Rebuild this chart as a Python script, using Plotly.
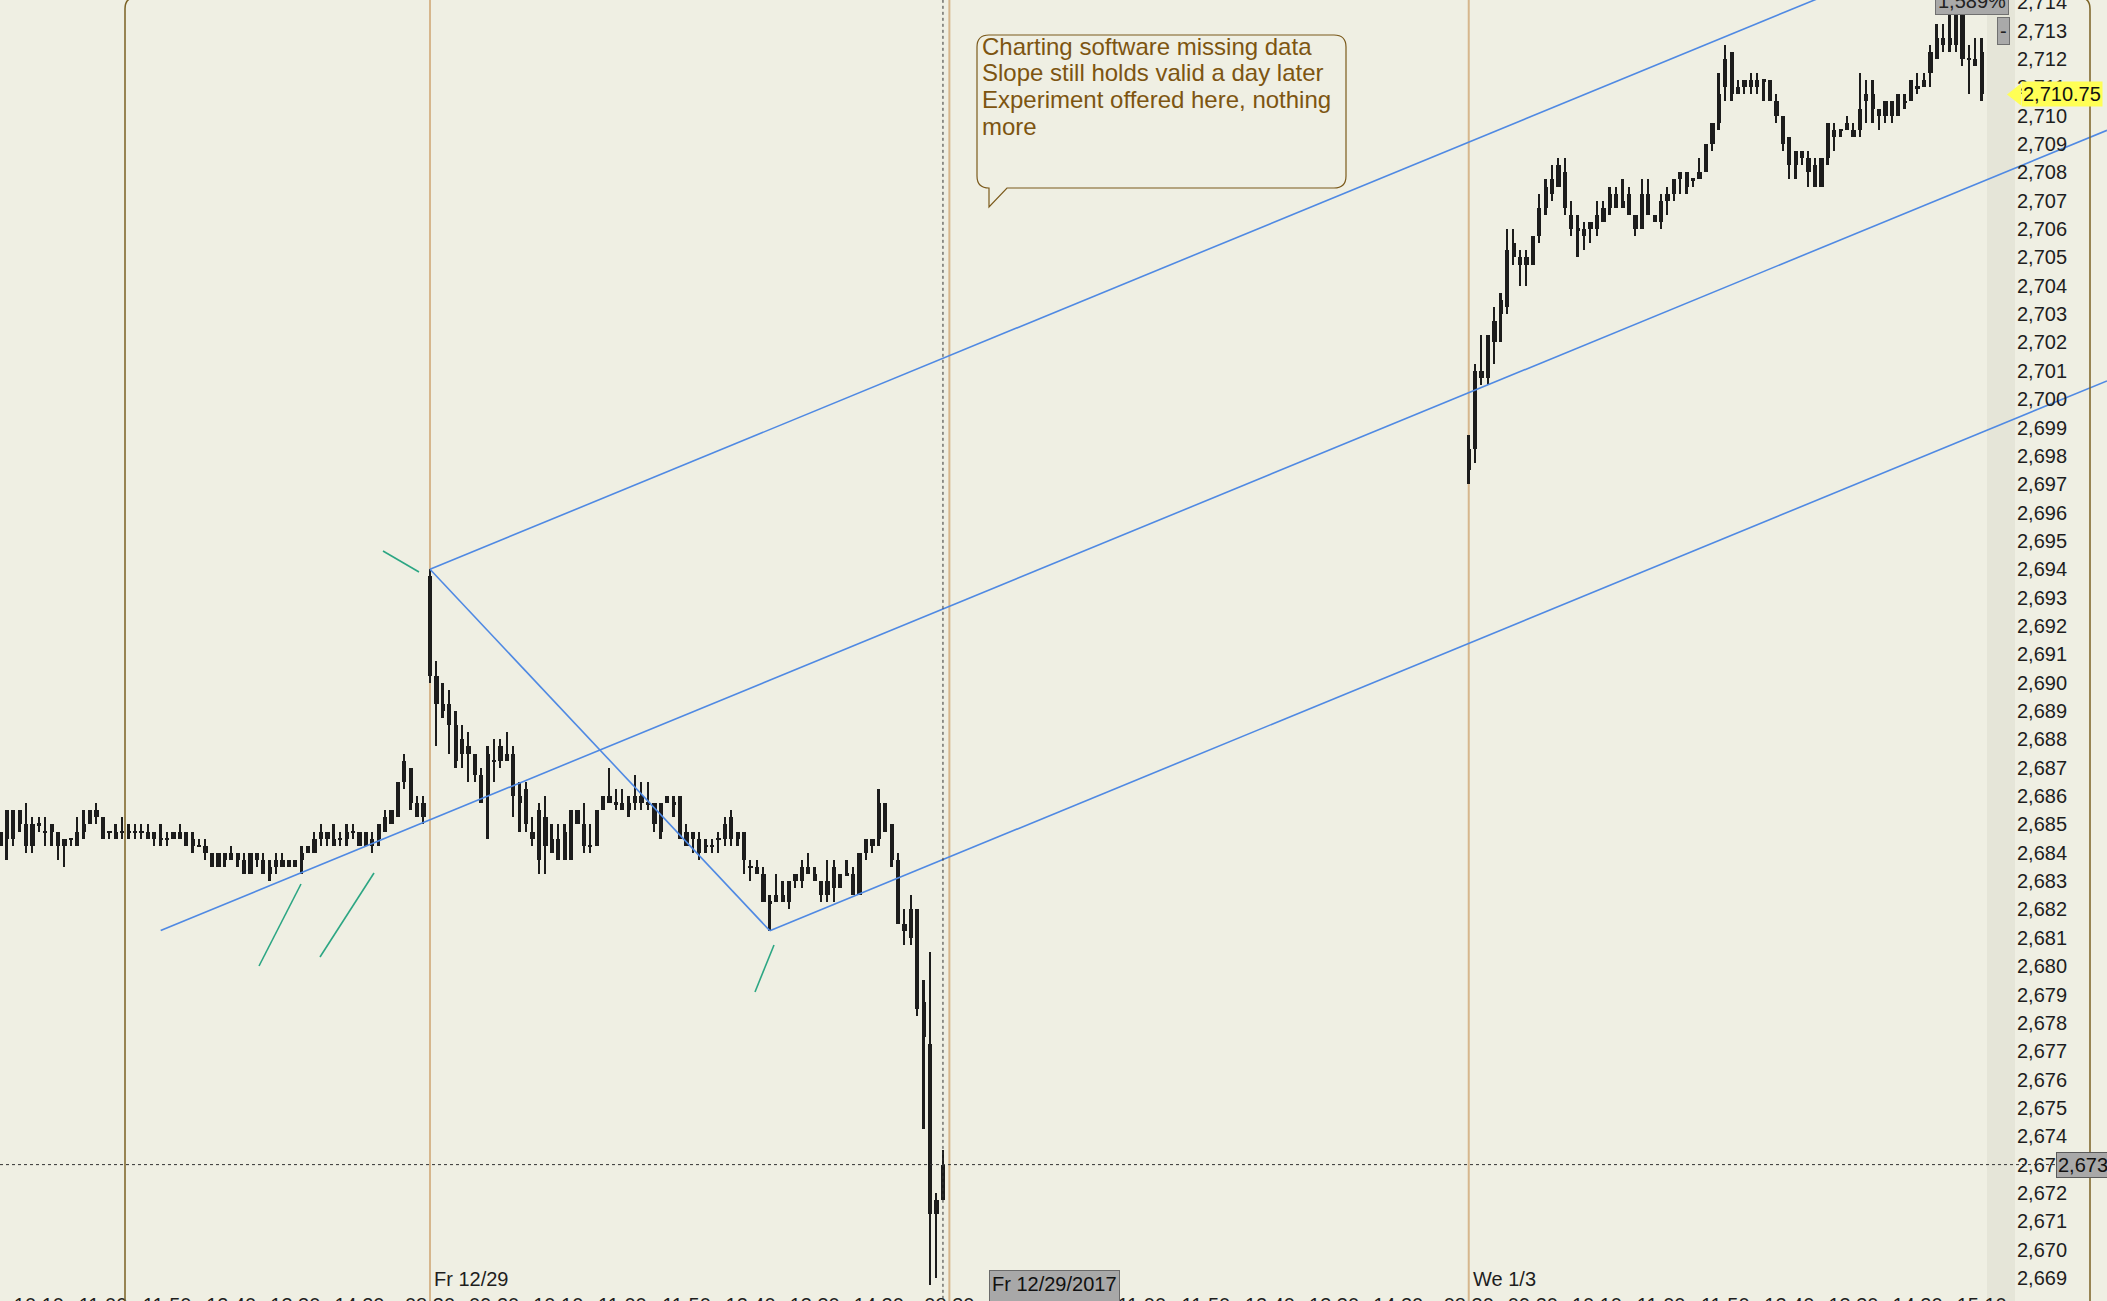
import plotly.graph_objects as go

# ================== data ==================
# ES 5-minute bars. bar slot 0 = Fr 12/29 08:30, 81 slots per session
# (Dec 28 from slot -67, Dec 29 from 0, Jan 2 missing, Jan 3 from 162)
dec28_start = -67
dec28_open = [2684.75, 2684.5, 2685.5, 2685.5, 2685.0, 2684.25, 2685.0, 2684.75, 2685.0, 2684.75,
              2684.5, 2684.5, 2684.25, 2684.75, 2685.0, 2685.5, 2685.25, 2684.75, 2684.75, 2684.75,
              2684.75, 2684.75, 2684.75, 2684.75, 2684.75, 2684.5, 2684.5, 2684.5, 2684.75, 2684.75,
              2684.5, 2684.25, 2684.25, 2684.0, 2683.5, 2684.0, 2683.75, 2684.0, 2683.75, 2683.25,
              2684.0, 2683.75, 2683.5, 2683.5, 2683.75, 2683.5, 2683.75, 2683.75, 2684.0, 2684.0,
              2684.5, 2684.75, 2684.5, 2684.5, 2684.5, 2684.75, 2684.75, 2684.25, 2684.5, 2684.5,
              2684.75, 2685.0, 2685.25, 2686.5, 2687.0, 2685.75, 2685.75]
dec28_high = [2684.75, 2685.5, 2685.5, 2685.5, 2685.75, 2685.25, 2685.25, 2685.25, 2685.0, 2684.75,
              2684.5, 2684.5, 2685.25, 2685.5, 2685.5, 2685.75, 2685.25, 2684.75, 2685.0, 2685.25,
              2685.0, 2685.0, 2685.0, 2685.0, 2684.75, 2685.0, 2684.75, 2684.75, 2685.0, 2684.75,
              2684.75, 2684.5, 2684.5, 2684.0, 2684.0, 2684.0, 2684.25, 2684.0, 2684.0, 2684.0,
              2684.0, 2684.0, 2683.75, 2684.0, 2684.0, 2683.75, 2683.75, 2684.25, 2684.25, 2684.75,
              2685.0, 2684.75, 2685.0, 2684.75, 2685.0, 2685.0, 2684.75, 2684.75, 2684.75, 2685.0,
              2685.5, 2685.5, 2686.5, 2687.5, 2687.0, 2686.0, 2686.0]
dec28_low = [2684.25, 2683.75, 2684.25, 2684.75, 2684.0, 2684.0, 2684.75, 2684.25, 2684.25, 2683.75,
             2683.5, 2684.25, 2684.25, 2684.5, 2685.0, 2685.0, 2684.5, 2684.5, 2684.5, 2684.5,
             2684.5, 2684.5, 2684.5, 2684.5, 2684.25, 2684.25, 2684.25, 2684.5, 2684.5, 2684.25,
             2684.0, 2684.25, 2683.75, 2683.5, 2683.5, 2683.5, 2683.75, 2683.5, 2683.25, 2683.25,
             2683.5, 2683.25, 2683.0, 2683.25, 2683.5, 2683.5, 2683.5, 2683.25, 2684.0, 2684.0,
             2684.25, 2684.25, 2684.25, 2684.25, 2684.25, 2684.5, 2684.25, 2684.25, 2684.0, 2684.25,
             2684.75, 2685.0, 2685.25, 2686.25, 2685.5, 2685.25, 2685.0]
dec28_close = [2684.25, 2685.5, 2684.5, 2685.0, 2684.25, 2685.0, 2685.0, 2684.75, 2684.75, 2684.25,
               2684.25, 2684.5, 2684.75, 2685.0, 2685.5, 2685.25, 2684.5, 2684.75, 2684.5, 2684.75,
               2684.75, 2684.75, 2684.75, 2684.5, 2684.5, 2684.5, 2684.5, 2684.75, 2684.5, 2684.25,
               2684.25, 2684.25, 2684.0, 2683.5, 2684.0, 2683.75, 2684.0, 2683.75, 2683.25, 2684.0,
               2683.75, 2683.25, 2683.25, 2683.75, 2683.5, 2683.75, 2683.5, 2684.0, 2684.25, 2684.5,
               2684.75, 2684.5, 2684.25, 2684.5, 2684.75, 2684.75, 2684.25, 2684.75, 2684.25, 2685.0,
               2685.25, 2685.5, 2686.5, 2687.25, 2685.75, 2685.25, 2685.25]

dec29_start = 0
dec29_open = [2693.75, 2690.25, 2689.25, 2689.25, 2688.5, 2688.0, 2687.75, 2687.5, 2686.75, 2686.0,
              2687.25, 2687.25, 2687.5, 2687.5, 2686.0, 2686.25, 2684.75, 2685.5, 2685.25, 2684.5,
              2684.5, 2683.75, 2685.5, 2685.5, 2685.0, 2684.25, 2684.25, 2685.5, 2686.0, 2685.75,
              2685.75, 2685.5, 2685.75, 2686.0, 2685.75, 2685.75, 2685.75, 2685.75, 2685.75, 2686.0,
              2684.75, 2684.75, 2684.5, 2684.25, 2684.25, 2684.5, 2684.5, 2685.25, 2684.5, 2684.75,
              2683.5, 2683.25, 2683.25, 2682.25, 2682.5, 2682.5, 2682.25, 2683.0, 2683.0, 2683.5,
              2683.25, 2683.0, 2682.5, 2683.5, 2682.75, 2683.25, 2683.25, 2682.5, 2684.0, 2684.25,
              2684.5, 2685.75, 2685.0, 2683.75, 2681.5, 2681.0, 2682.0, 2678.75, 2677.25, 2671.25,
              2671.75]
dec29_high = [2694.0, 2690.75, 2690.0, 2689.75, 2689.0, 2688.5, 2688.25, 2687.5, 2687.0, 2687.75,
              2688.0, 2688.0, 2688.25, 2687.75, 2686.5, 2686.5, 2685.25, 2685.75, 2686.0, 2685.0,
              2685.0, 2685.0, 2685.5, 2685.5, 2685.75, 2685.0, 2685.5, 2686.0, 2687.0, 2686.25,
              2686.25, 2686.0, 2686.75, 2686.5, 2686.5, 2685.75, 2685.75, 2686.0, 2686.0, 2686.0,
              2685.0, 2684.75, 2684.75, 2684.5, 2684.5, 2684.75, 2685.25, 2685.5, 2684.75, 2684.75,
              2683.75, 2683.75, 2683.5, 2682.5, 2683.25, 2683.0, 2683.0, 2683.25, 2683.75, 2684.0,
              2683.5, 2683.0, 2683.75, 2683.75, 2683.25, 2683.75, 2683.5, 2684.0, 2684.5, 2684.5,
              2686.25, 2685.75, 2685.0, 2684.0, 2682.0, 2682.5, 2682.0, 2679.5, 2680.5, 2672.0,
              2673.5]
dec29_low = [2690.0, 2687.75, 2688.75, 2687.5, 2687.0, 2687.0, 2686.5, 2686.5, 2685.75, 2684.5,
             2686.5, 2687.0, 2687.25, 2685.25, 2684.75, 2684.75, 2684.25, 2683.25, 2683.25, 2684.0,
             2683.75, 2683.75, 2683.75, 2685.0, 2684.0, 2684.0, 2684.25, 2685.5, 2685.75, 2685.5,
             2685.5, 2685.25, 2685.5, 2685.5, 2685.5, 2684.75, 2684.5, 2685.75, 2685.25, 2684.5,
             2684.25, 2684.0, 2683.75, 2684.0, 2684.0, 2684.0, 2684.25, 2684.25, 2684.25, 2683.25,
             2683.0, 2683.25, 2682.25, 2681.25, 2682.25, 2682.25, 2682.0, 2682.75, 2682.75, 2683.25,
             2683.0, 2682.25, 2682.25, 2682.25, 2682.75, 2683.25, 2682.5, 2682.5, 2683.75, 2684.0,
             2684.25, 2684.75, 2683.5, 2681.5, 2680.75, 2680.75, 2678.25, 2674.25, 2668.75, 2669.0,
             2671.75]
dec29_close = [2690.25, 2689.25, 2689.0, 2688.5, 2687.25, 2687.5, 2687.5, 2686.75, 2685.75, 2687.5,
               2687.25, 2687.75, 2687.25, 2686.0, 2685.75, 2685.0, 2684.5, 2683.75, 2684.25, 2684.0,
               2683.75, 2684.75, 2683.75, 2685.0, 2684.25, 2684.25, 2685.5, 2686.0, 2685.75, 2685.75,
               2685.5, 2685.75, 2686.0, 2685.75, 2685.75, 2685.0, 2684.75, 2686.0, 2685.75, 2684.5,
               2684.25, 2684.5, 2684.0, 2684.25, 2684.25, 2684.5, 2685.0, 2684.5, 2684.75, 2683.75,
               2683.5, 2683.5, 2682.25, 2682.25, 2682.25, 2682.25, 2683.0, 2683.25, 2683.5, 2683.25,
               2683.0, 2682.5, 2683.0, 2682.75, 2683.25, 2683.25, 2682.5, 2684.0, 2684.5, 2684.5,
               2685.75, 2684.75, 2683.75, 2681.5, 2681.25, 2682.0, 2678.5, 2677.5, 2671.25, 2671.75,
               2673.0]

jan03_start = 162
jan03_open = [2697.5, 2698.25, 2701.0, 2700.75, 2702.0, 2703.0, 2703.25, 2705.5, 2705.0, 2704.75,
              2704.75, 2705.75, 2706.75, 2707.25, 2707.5, 2708.0, 2706.5, 2706.0, 2706.0, 2706.0,
              2706.0, 2706.25, 2706.75, 2707.25, 2706.75, 2707.25, 2706.5, 2706.0, 2707.25, 2706.5,
              2706.25, 2707.0, 2707.25, 2707.75, 2708.0, 2707.75, 2707.75, 2708.0, 2709.0, 2709.75,
              2711.0, 2712.25, 2710.75, 2711.0, 2711.25, 2711.0, 2711.25, 2711.25, 2710.5, 2710.0,
              2709.25, 2708.25, 2708.75, 2708.5, 2708.25, 2707.5, 2708.5, 2709.5, 2709.5, 2709.5,
              2709.5, 2709.5, 2710.75, 2710.75, 2710.25, 2710.0, 2710.5, 2710.0, 2710.5, 2710.5,
              2711.0, 2711.0, 2711.5, 2712.0, 2712.75, 2712.75, 2712.5, 2714.0, 2712.0, 2712.0,
              2712.25]
jan03_high = [2698.75, 2701.25, 2702.25, 2702.25, 2703.25, 2703.75, 2706.0, 2706.0, 2705.25, 2705.25,
              2705.75, 2707.25, 2707.75, 2708.25, 2708.5, 2708.5, 2707.0, 2706.5, 2706.25, 2706.25,
              2707.0, 2707.0, 2707.5, 2707.5, 2707.75, 2707.5, 2706.5, 2707.75, 2707.75, 2706.5,
              2707.25, 2707.5, 2707.75, 2708.0, 2708.0, 2707.75, 2708.5, 2709.0, 2709.75, 2711.5,
              2712.5, 2712.25, 2711.25, 2711.25, 2711.5, 2711.5, 2711.25, 2711.25, 2710.75, 2710.0,
              2709.25, 2708.75, 2708.75, 2708.75, 2708.5, 2708.5, 2709.75, 2709.75, 2709.5, 2710.0,
              2709.75, 2711.5, 2711.25, 2711.25, 2710.25, 2710.5, 2710.5, 2710.75, 2710.75, 2711.25,
              2711.5, 2711.5, 2712.5, 2713.25, 2713.25, 2714.0, 2714.25, 2714.25, 2712.5, 2712.75,
              2712.75]
jan03_low = [2697.0, 2697.75, 2700.5, 2700.5, 2701.25, 2702.0, 2703.0, 2704.75, 2704.0, 2704.0,
             2704.75, 2705.5, 2706.5, 2707.0, 2707.5, 2706.5, 2705.75, 2705.0, 2705.25, 2705.5,
             2705.75, 2706.25, 2706.5, 2706.75, 2706.75, 2706.5, 2705.75, 2706.0, 2706.5, 2706.25,
             2706.0, 2706.5, 2707.0, 2707.25, 2707.25, 2707.5, 2707.75, 2708.0, 2708.75, 2709.5,
             2710.5, 2710.5, 2710.75, 2710.75, 2710.75, 2710.75, 2710.5, 2710.5, 2709.75, 2708.75,
             2707.75, 2707.75, 2708.25, 2707.5, 2707.5, 2707.5, 2708.25, 2708.75, 2709.25, 2709.5,
             2709.25, 2709.25, 2709.75, 2709.75, 2709.5, 2709.75, 2709.75, 2710.0, 2710.25, 2710.5,
             2710.75, 2711.0, 2711.0, 2712.0, 2712.25, 2712.25, 2712.25, 2711.75, 2710.75, 2711.75,
             2710.5]
jan03_close = [2698.25, 2701.0, 2700.75, 2702.25, 2702.75, 2703.5, 2705.25, 2705.0, 2704.75, 2705.0,
               2705.75, 2706.75, 2707.5, 2707.75, 2708.25, 2706.75, 2706.0, 2706.0, 2705.75, 2706.25,
               2706.5, 2706.75, 2707.25, 2706.75, 2707.0, 2706.5, 2706.0, 2707.25, 2706.5, 2706.25,
               2707.0, 2707.25, 2707.75, 2708.0, 2707.5, 2707.75, 2708.0, 2709.0, 2709.75, 2710.75,
               2712.0, 2710.75, 2711.0, 2711.25, 2711.0, 2711.25, 2711.25, 2710.5, 2710.0, 2709.0,
               2708.25, 2708.75, 2708.5, 2708.0, 2707.5, 2708.5, 2709.75, 2709.25, 2709.5, 2709.75,
               2709.25, 2710.25, 2710.5, 2710.25, 2710.0, 2710.5, 2710.0, 2710.75, 2710.5, 2711.25,
               2711.0, 2711.25, 2712.25, 2712.75, 2712.5, 2712.5, 2713.75, 2712.0, 2712.0, 2711.75,
               2710.75]

# time axis labels (bar slot -> text)
tick_vals = [-61, -51, -41, -31, -21, -11,
             0, 10, 20, 30, 40, 50, 60, 70,
             81, 91, 101, 111, 121, 131, 141, 151,
             162, 172, 182, 192, 202, 212, 222, 232, 242]
tick_text = ["10:10", "11:00", "11:50", "12:40", "13:30", "14:20",
             "08:30", "09:20", "10:10", "11:00", "11:50", "12:40", "13:30", "14:20",
             "08:30", "09:20", "10:10", "11:00", "11:50", "12:40", "13:30", "14:20",
             "08:30", "09:20", "10:10", "11:00", "11:50", "12:40", "13:30", "14:20", "15:10"]
session_starts = [0, 81, 162]
day_labels = ["Fr 12/29", "", "We 1/3"]

# hand drawn channel: two pivots + common slope (points per bar)
pivot_x = [0, 53]
pivot_y = [2694.0, 2681.25]
channel_slope = 0.093
mid_start_x = -42

last_price = 2710.75
cursor_price = 2673
cursor_bar = 80

note_lines = ["Charting software missing data",
              "Slope still holds valid a day later",
              "Experiment offered here, nothing",
              "more"]

# ================== layout helpers ==================
W, H = 2107, 1301
BOTTOM = 10                 # x labels hang below the plot and get cut by the window
BAR_PX = 6.412              # px per 5-min slot
X0_PX = 430                 # px of slot 0
PT_PX = 28.35               # px per index point
Y_TOP = 2714.08             # price at the top edge
PLOT_H = H - BOTTOM


def bx(px):
    return (px - X0_PX) / BAR_PX


def py(pix):
    return Y_TOP - pix / PT_PX


def pap_y(pix):
    return (PLOT_H - pix) / PLOT_H


x_rng = [bx(0), bx(W)]
y_rng = [py(PLOT_H), Y_TOP]

FONT = "Liberation Sans, Arial, sans-serif"
BG = "#efefe3"
CANDLE = "#1c1c1c"
BLUE = "#4f89e3"
TEAL = "#2ca683"
TAN = "#d6b68c"

# ================== candles ==================
xs, o, h, l, c = [], [], [], [], []
for start, oo, hh, ll, cc in [(dec28_start, dec28_open, dec28_high, dec28_low, dec28_close),
                              (dec29_start, dec29_open, dec29_high, dec29_low, dec29_close),
                              (jan03_start, jan03_open, jan03_high, jan03_low, jan03_close)]:
    xs += list(range(start, start + len(oo)))
    o += oo
    h += hh
    l += ll
    c += cc

body_base, body_h = [], []
for oo, cc in zip(o, c):
    lo, hi = min(oo, cc), max(oo, cc)
    if hi - lo < 0.07:          # doji: thin horizontal tick
        body_base.append(lo - 0.035)
        body_h.append(0.07)
    else:
        body_base.append(lo)
        body_h.append(hi - lo)

fig = go.Figure()
fig.add_trace(go.Bar(x=xs, y=[a - b for a, b in zip(h, l)], base=l, width=0.27,
                     marker=dict(color=CANDLE, line=dict(width=0)), hoverinfo="skip"))
fig.add_trace(go.Bar(x=xs, y=body_h, base=body_base, width=0.66,
                     marker=dict(color=CANDLE, line=dict(width=0)), hoverinfo="skip"))

# ================== channel lines ==================
x_end = x_rng[1]
top_y0 = pivot_y[0] - channel_slope * pivot_x[0]
bot_y0 = pivot_y[1] - channel_slope * pivot_x[1]
mid_y0 = (top_y0 + bot_y0) / 2
line_style = dict(color=BLUE, width=1.6)
fig.add_trace(go.Scatter(x=[pivot_x[0], x_end], y=[pivot_y[0], top_y0 + channel_slope * x_end],
                         mode="lines", line=line_style, hoverinfo="skip"))
fig.add_trace(go.Scatter(x=[mid_start_x, x_end],
                         y=[mid_y0 + channel_slope * mid_start_x, mid_y0 + channel_slope * x_end],
                         mode="lines", line=line_style, hoverinfo="skip"))
fig.add_trace(go.Scatter(x=[pivot_x[1], x_end], y=[pivot_y[1], bot_y0 + channel_slope * x_end],
                         mode="lines", line=line_style, hoverinfo="skip"))
fig.add_trace(go.Scatter(x=pivot_x, y=pivot_y, mode="lines", line=line_style, hoverinfo="skip"))

shapes = []
# session separators
for s in session_starts:
    shapes.append(dict(type="line", xref="x", yref="paper", x0=s, x1=s, y0=-0.02, y1=1.0,
                       line=dict(color=TAN, width=2), layer="below"))
# crosshair
shapes.append(dict(type="line", xref="x", yref="paper", x0=cursor_bar, x1=cursor_bar, y0=-0.02, y1=1,
                   line=dict(color="#333333", width=1, dash="dot")))
shapes.append(dict(type="line", xref="paper", yref="y", x0=0, x1=2056 / W, y0=cursor_price, y1=cursor_price,
                   line=dict(color="#333333", width=1, dash="dot")))
# hatched right margin of the chart
shapes.append(dict(type="rect", xref="x", yref="paper", x0=bx(1987), x1=bx(2015), y0=-0.02, y1=1,
                   fillcolor="rgba(150,150,130,0.10)", line=dict(width=0), layer="below"))
# big rounded frame (top edge just above the view)
xl, xr, yt, yb = 125 / W, 2090 / W, 1 + 3 / PLOT_H, -0.05
rx, ry = 12 / W, 12 / PLOT_H
shapes.append(dict(type="path", xref="paper", yref="paper",
                   path=f"M {xl},{yb} L {xl},{yt - ry} Q {xl},{yt} {xl + rx},{yt} "
                        f"L {xr - rx},{yt} Q {xr},{yt} {xr},{yt - ry} L {xr},{yb}",
                   line=dict(color="#7b6224", width=1.5)))
# teal tick marks
for (ax, ay, bx_, by_) in [(383, 551, 419, 572), (259, 966, 301, 884),
                           (320, 957, 374, 873), (755, 992, 774, 945)]:
    shapes.append(dict(type="line", xref="x", yref="y", x0=bx(ax), y0=py(ay), x1=bx(bx_), y1=py(by_),
                       line=dict(color=TEAL, width=1.6)))
# callout box
L, R, T, B = bx(977), bx(1346), py(35), py(188)
cx, cy = 12 / BAR_PX, 12 / PT_PX
tx0, tx1, ty = bx(989), bx(1007), py(207)
shapes.append(dict(type="path", xref="x", yref="y",
                   path=(f"M {L + cx:.4f},{T:.4f} L {R - cx:.4f},{T:.4f} Q {R:.4f},{T:.4f} {R:.4f},{T - cy:.4f} "
                         f"L {R:.4f},{B + cy:.4f} Q {R:.4f},{B:.4f} {R - cx:.4f},{B:.4f} "
                         f"L {tx1:.4f},{B:.4f} L {tx0:.4f},{ty:.4f} L {tx0:.4f},{B:.4f} "
                         f"L {L + cx:.4f},{B:.4f} Q {L:.4f},{B:.4f} {L:.4f},{B + cy:.4f} "
                         f"L {L:.4f},{T - cy:.4f} Q {L:.4f},{T:.4f} {L + cx:.4f},{T:.4f} Z"),
                   line=dict(color="#7b5a1c", width=1.2)))
# yellow last-price tag tip
tag_h = 11 / PT_PX
shapes.append(dict(type="path", xref="x", yref="y",
                   path=f"M {bx(2007)},{last_price} L {bx(2021)},{last_price + tag_h} "
                        f"L {bx(2021)},{last_price - tag_h} Z",
                   fillcolor="#ffff55", line=dict(width=0)))

annotations = []
for i, txt in enumerate(note_lines):
    annotations.append(dict(x=bx(980), y=py(46 + 26.7 * i), xref="x", yref="y", text=txt,
                            showarrow=False, xanchor="left", yanchor="middle",
                            font=dict(family=FONT, size=24, color="#7d5511")))
for s, txt in zip(session_starts, day_labels):
    if txt:
        annotations.append(dict(x=s, y=pap_y(1279), xref="x", yref="paper", text=txt, showarrow=False,
                                xanchor="left", yanchor="middle", xshift=2,
                                font=dict(family=FONT, size=20, color="#1e1e1e")))
annotations.append(dict(x=bx(989), y=pap_y(1270), xref="x", yref="paper",
                        text="Fr 12/29/2017<br>15:10:00", showarrow=False, align="left",
                        xanchor="left", yanchor="top", bgcolor="#a8a8a8", bordercolor="#6a6a6a",
                        borderwidth=1, borderpad=2, font=dict(family=FONT, size=20, color="#111111")))
annotations.append(dict(x=2021 / W, y=last_price, xref="paper", yref="y", text=f"{last_price:,.2f}",
                        showarrow=False, xanchor="left", yanchor="middle", bgcolor="#ffff55",
                        borderpad=1, font=dict(family=FONT, size=20, color="#111111")))
annotations.append(dict(x=2056 / W, y=cursor_price, xref="paper", yref="y", text=f"{cursor_price:,}",
                        showarrow=False, xanchor="left", yanchor="middle", bgcolor="#a8a8a8",
                        bordercolor="#5a5a5a", borderwidth=1, borderpad=1,
                        font=dict(family=FONT, size=20, color="#111111")))
annotations.append(dict(x=1935 / W, y=pap_y(15), xref="paper", yref="paper", text="1,589%",
                        showarrow=False, xanchor="left", yanchor="bottom", bgcolor="#a9a9a9",
                        bordercolor="#707070", borderwidth=1, borderpad=2,
                        font=dict(family=FONT, size=20, color="#222222")))
annotations.append(dict(x=1997 / W, y=pap_y(17), xref="paper", yref="paper", text="-",
                        showarrow=False, xanchor="left", yanchor="top", bgcolor="#a9a9a9",
                        bordercolor="#707070", borderwidth=1, borderpad=2,
                        font=dict(family=FONT, size=20, color="#222222")))

fig.update_layout(
    width=W, height=H,
    margin=dict(l=0, r=0, t=0, b=BOTTOM, autoexpand=False),
    paper_bgcolor=BG, plot_bgcolor=BG,
    barmode="overlay", bargap=0,
    showlegend=False,
    shapes=shapes, annotations=annotations,
    xaxis=dict(range=x_rng, tickmode="array", tickvals=tick_vals, ticktext=tick_text,
               showgrid=False, zeroline=False, showline=False, ticks="",
               tickfont=dict(family=FONT, size=20, color="#1e1e1e"), fixedrange=True),
    yaxis=dict(range=y_rng, anchor="free", position=2012 / W, side="right",
               tick0=2669, dtick=1, tickformat=",d", ticklabeloverflow="allow", ticklabelstandoff=4,
               showgrid=False, zeroline=False, showline=False, ticks="",
               tickfont=dict(family=FONT, size=20, color="#1e1e1e"), fixedrange=True),
)

fig.write_html("out.html", config={"displayModeBar": False},
               post_script="document.body.style.margin='0';")
